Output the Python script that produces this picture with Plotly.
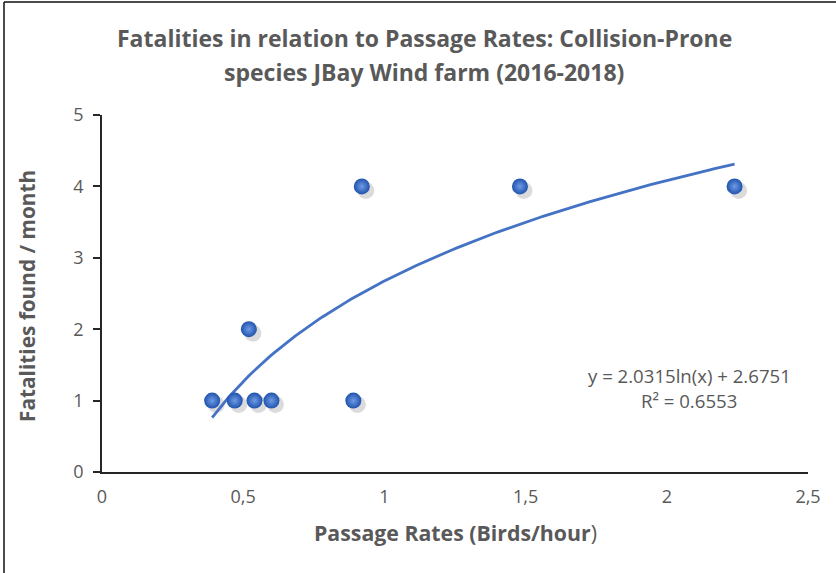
import numpy as np
import plotly.graph_objects as go

# ---- data ----
passage_rates = [0.39, 0.47, 0.54, 0.60, 0.89, 0.52, 0.92, 1.48, 2.24]
fatalities = [1, 1, 1, 1, 1, 2, 4, 4, 4]
trend_a = 2.0315
trend_b = 2.6751
r_squared = 0.6553
x_ticks = [0, 0.5, 1, 1.5, 2, 2.5]
y_ticks = [0, 1, 2, 3, 4, 5]

W, H = 836, 573
L, R, T, B = 102, 28, 115, 101
pw, ph = W - L - R, H - T - B

def px(x):
    return (x - L) / pw

def py(y):
    return (H - B - y) / ph

TXT = "#595959"
FONT = "Open Sans"
BLUE = "#4472C4"

fig = go.Figure()

# soft shadow of markers (offset a few pixels down-right)
dx = 4 * 2.5 / pw
dy = -4 * 5 / ph
fig.add_trace(go.Scatter(
    x=[v + dx for v in passage_rates], y=[v + dy for v in fatalities],
    mode="markers", hoverinfo="skip", showlegend=False,
    marker=dict(size=17, color="rgba(0,0,0,0.14)", line=dict(width=0)),
))

# logarithmic trendline using the chart's fitted coefficients
xt = np.linspace(min(passage_rates), max(passage_rates), 200)
yt = trend_a * np.log(xt) + trend_b
fig.add_trace(go.Scatter(
    x=xt, y=yt, mode="lines", showlegend=False,
    line=dict(color=BLUE, width=2.8),
))

fig.add_trace(go.Scatter(
    x=passage_rates, y=fatalities, mode="markers", showlegend=False,
    marker=dict(size=16, color="#2153ad",
                gradient=dict(type="radial", color="#6f9be6"),
                line=dict(width=0)),
))

axis_common = dict(
    showgrid=False, zeroline=False, showline=True,
    linecolor="#262626", linewidth=1.6,
    tickfont=dict(family=FONT, size=18, color=TXT),
)

fig.update_xaxes(range=[0, 2.5], tickvals=x_ticks, ticks="",
                 ticklabelstandoff=8, **axis_common)
fig.update_yaxes(range=[0, 5], tickvals=y_ticks, ticks="outside",
                 ticklen=7, tickcolor="#262626", tickwidth=1.6,
                 ticklabelstandoff=6, **axis_common)

annotations = [
    dict(text="<b>Fatalities in relation to Passage Rates: Collision-Prone</b>",
         x=px(424), y=py(38), size=23),
    dict(text="<b>species JBay Wind farm (2016-2018)</b>",
         x=px(424), y=py(72), size=23),
    dict(text="<b>Passage Rates (Birds/hour</b>)",
         x=px(455), y=py(532), size=21.3),
    dict(text="<b>Fatalities found / month</b>",
         x=px(27), y=py(296), size=20.8, textangle=-90),
    dict(text="y = 2.0315ln(x) + 2.6751",
         x=px(689), y=py(375), size=18.6),
    dict(text="R² = " + f"{r_squared:.4f}",
         x=px(689), y=py(400), size=18.6),
]
ann = []
for a in annotations:
    ann.append(dict(
        text=a["text"], x=a["x"], y=a["y"], xref="paper", yref="paper",
        xanchor="center", yanchor="middle", showarrow=False,
        textangle=a.get("textangle", 0),
        font=dict(family=FONT, size=a["size"], color=TXT),
    ))

shapes = [
    dict(type="line", xref="paper", yref="paper",
         x0=px(4), x1=px(4), y0=py(2), y1=py(H + 5),
         line=dict(color="#111", width=1.5)),
    dict(type="line", xref="paper", yref="paper",
         x0=px(4), x1=px(W + 5), y0=py(2), y1=py(2),
         line=dict(color="#111", width=1.5)),
]

fig.update_layout(
    width=W, height=H,
    margin=dict(l=L, r=R, t=T, b=B),
    paper_bgcolor="white", plot_bgcolor="white",
    separators=",.",
    annotations=ann, shapes=shapes,
    showlegend=False,
)

fig.write_html("out.html")
